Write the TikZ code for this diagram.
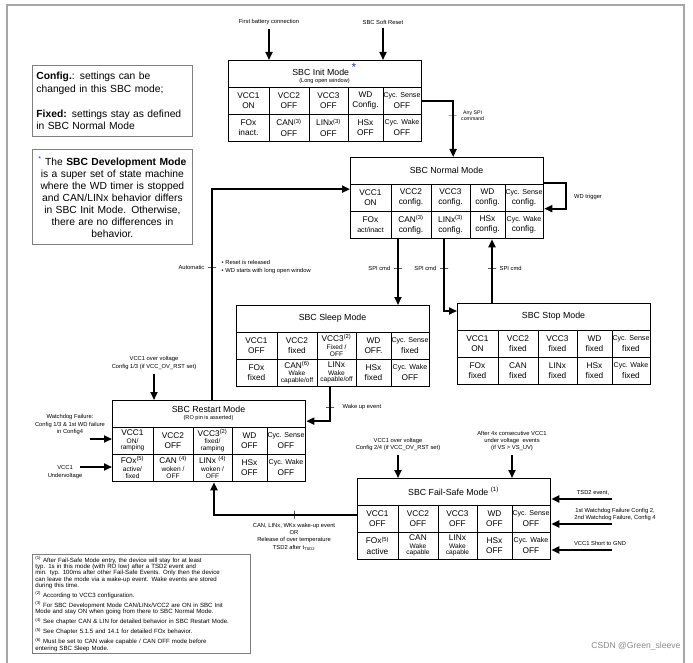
\documentclass[tikz,border=0pt]{standalone}
\usepackage{fontspec}
\setmainfont{Liberation Sans}
\usetikzlibrary{arrows.meta}
\usetikzlibrary{positioning}
\definecolor{sbcgray}{HTML}{7F7F7F}
\definecolor{sbcframe}{HTML}{A6A6A6}
\definecolor{sbcstar}{HTML}{1F3FD0}
\definecolor{sbcmark}{HTML}{8C8C8C}
\newcommand{\sbccyc}[1]{{\fontsize{7.1}{9}\selectfont #1}}
\newcommand{\sbcsmall}[1]{{\fontsize{6.6}{6.8}\selectfont #1}}
% ten cells of one mode table, row by row
\newcommand{\sbccells}[4]{%
  \foreach \txt [count=\i from 0] in {#4} {
    \pgfmathtruncatemacro\col{mod(\i,5)}
    \pgfmathtruncatemacro\row{div(\i,5)}
    \pgfmathsetmacro\cx{{20.5,61,100.5,137.5,174}[\col]}
    \node[sbccell] (#1-\i) at (#2+\cx, #3+40.5+27*\row) {\txt};
  }}
\tikzset{
  sbcbox/.style={
    draw, line width=1.3pt, minimum width=193pt, minimum height=81pt,
    inner sep=0pt, anchor=north west},
  sbcgrid/.style={line width=0.6pt},
  sbccell/.style={align=center, inner sep=0pt,
    font=\fontsize{8.3}{10.2}\selectfont},
  sbctitle/.style={align=center, inner sep=0pt,
    font=\fontsize{8.8}{9.6}\selectfont},
  sbclabel/.style={align=center, inner sep=0pt,
    font=\fontsize{5.8}{7.2}\selectfont},
  sbcarrow/.style={-{Triangle[length=8pt, width=7pt]}, line width=1.8pt},
  sbctickh/.style={draw, line width=1pt, minimum width=8pt,
    minimum height=0pt, inner sep=0pt},
  sbctickv/.style={draw, line width=1pt, minimum width=0pt,
    minimum height=8pt, inner sep=0pt},
  sbcnote/.style={draw=sbcgray, line width=0.8pt, anchor=north west},
}
\begin{document}
\begin{tikzpicture}[x=1pt, y=-1pt]

\fill[white] (0,0) rectangle (693,663);
\useasboundingbox (0,0) rectangle (693,663);
\draw[sbcframe, line width=1.5pt] (7,663) |- (684,5) -- (684,663);

% Mode tables: grid first, outline on top.
\foreach \bx/\by in {228/60, 350/157, 236/305, 457/303, 112/400, 357/478} {
  \draw[sbcgrid] (\bx,\by+27) -- ++(193,0);
  \draw[sbcgrid] (\bx,\by+54) -- ++(193,0);
  \foreach \dx in {41,81,120,155}
    \draw[sbcgrid] (\bx+\dx,\by+27) -- ++(0,54);
}
\node[sbcbox] (init) at (228,60) {};
\node[sbcbox] (normal) at (350,157) {};
\node[sbcbox] (sleep) at (236,305) {};
\node[sbcbox] (stop) at (457,303) {};
\node[sbcbox] (restart) at (112,400) {};
\node[sbcbox] (failsafe) at (357,478) {};

% Titles.
\node[sbctitle] (init-title) at (324.5,73.5)
  {SBC Init Mode \textcolor{sbcstar}{\textsuperscript{\large *}}\\[-2.5pt]
   {\fontsize{5.6}{6}\selectfont (Long open window)}};
\node[sbctitle] (normal-title) at (446.5,170.5) {SBC Normal Mode};
\node[sbctitle] (sleep-title) at (332.5,318.5) {SBC Sleep Mode};
\node[sbctitle] (stop-title) at (553.5,316.5) {SBC Stop Mode};
\node[sbctitle] (restart-title) at (208.5,413.5)
  {SBC Restart Mode\\[-2.5pt]{\fontsize{5.6}{6}\selectfont (RO pin is asserted)}};
\node[sbctitle] (failsafe-title) at (453.5,491.5)
  {SBC Fail-Safe Mode \textsuperscript{(1)}};

% Cells.
\sbccells{init}{228}{60}{{VCC1\\ON}, {VCC2\\OFF}, {VCC3\\OFF}, {WD\\Config.},
  {\sbccyc{Cyc. Sense}\\OFF}, {FOx\\inact.}, {CAN\textsuperscript{(3)}\\OFF},
  {LINx\textsuperscript{(3)}\\OFF}, {HSx\\OFF}, {\sbccyc{Cyc. Wake}\\OFF}}
\sbccells{normal}{350}{157}{{VCC1\\ON}, {VCC2\\config.}, {VCC3\\config.},
  {WD\\config.}, {\sbccyc{Cyc. Sense}\\config.}, {FOx\\\sbccyc{act/inact}},
  {CAN\textsuperscript{(3)}\\config.}, {LINx\textsuperscript{(3)}\\config.},
  {HSx\\config.}, {\sbccyc{Cyc. Wake}\\config.}}
\sbccells{sleep}{236}{305}{{VCC1\\OFF}, {VCC2\\fixed},
  {VCC3\textsuperscript{(2)}\\[-2.5pt]\sbcsmall{Fixed /}\\[-3.5pt]\sbcsmall{OFF}},
  {WD\\OFF.}, {\sbccyc{Cyc. Sense}\\fixed}, {FOx\\fixed},
  {CAN\textsuperscript{(6)}\\[-2.5pt]\sbcsmall{Wake}\\[-3.5pt]\sbcsmall{capable/off}},
  {LINx\\[-2.5pt]\sbcsmall{Wake}\\[-3.5pt]\sbcsmall{capable/off}},
  {HSx\\fixed}, {\sbccyc{Cyc. Wake}\\OFF}}
\sbccells{stop}{457}{303}{{VCC1\\ON}, {VCC2\\fixed}, {VCC3\\fixed},
  {WD\\fixed}, {\sbccyc{Cyc. Sense}\\fixed}, {FOx\\fixed}, {CAN\\fixed},
  {LINx\\fixed}, {HSx\\fixed}, {\sbccyc{Cyc. Wake}\\fixed}}
\sbccells{restart}{112}{400}{
  {VCC1\\[-2.5pt]\sbcsmall{ON/}\\[-3.5pt]\sbcsmall{ramping}}, {VCC2\\OFF},
  {VCC3\textsuperscript{(2)}\\[-2.5pt]\sbcsmall{fixed/}\\[-3.5pt]\sbcsmall{ramping}},
  {WD\\OFF}, {\sbccyc{Cyc. Sense}\\OFF},
  {FOx\textsuperscript{(5)}\\[-2.5pt]\sbcsmall{active/}\\[-3.5pt]\sbcsmall{fixed}},
  {CAN \textsuperscript{(4)}\\[-2.5pt]\sbcsmall{woken /}\\[-3.5pt]\sbcsmall{OFF}},
  {LINx \textsuperscript{(4)}\\[-2.5pt]\sbcsmall{woken /}\\[-3.5pt]\sbcsmall{OFF}},
  {HSx\\OFF}, {\sbccyc{Cyc. Wake}\\OFF}}
\sbccells{failsafe}{357}{478}{{VCC1\\OFF}, {VCC2\\OFF}, {VCC3\\OFF}, {WD\\OFF},
  {\sbccyc{Cyc. Sense}\\OFF}, {FOx\textsuperscript{(5)}\\active},
  {CAN\\[-2.5pt]\sbcsmall{Wake}\\[-3.5pt]\sbcsmall{capable}},
  {LINx\\[-2.5pt]\sbcsmall{Wake}\\[-3.5pt]\sbcsmall{capable}},
  {HSx\\OFF}, {\sbccyc{Cyc. Wake}\\OFF}}

% Entry into Init.
\node[sbclabel] (battery) at (269,22) {First battery connection};
\node[sbclabel] (softreset) at (383,22) {SBC Soft Reset};
\draw[sbcarrow, shorten <=4pt] (battery) -- (battery |- init.north);
\draw[sbcarrow, shorten <=4pt] (softreset) -- (softreset |- init.north);

% Init to Normal.
\draw[sbcarrow] (init.east) -| ([xshift=6pt]normal.north);
\node[sbctickh] (anytick) at (452.5,116) {};
\node[sbclabel, font=\fontsize{5.2}{6.4}\selectfont, right=4pt of anytick]
  (anyspi) {Any SPI\\command};

% Restart back to Normal.
\coordinate (autofoot) at ([xshift=100pt]restart.north west);
\draw[sbcarrow] (autofoot) |- ([yshift=9pt]normal.west);
\node[sbctickh] (autotick) at (212,267) {};
\node[sbclabel, left=3pt of autotick] (automatic) {Automatic};
\node[sbclabel, align=left, right=5pt of autotick] (autonote)
  {\textbullet\ Reset is released\\\textbullet\ WD starts with long open window};

% Watchdog trigger loop.
\draw[sbcarrow] ([yshift=15pt]normal.east) -- ++(22,0)
  |- ([yshift=-10.5pt]normal.east);
\node[sbclabel, anchor=west] (wdtrigger) at (574,197) {WD trigger};

% Normal, Sleep and Stop.
\coordinate (tosleep) at ([xshift=48pt]normal.south west);
\coordinate (tostop) at ([xshift=94pt]normal.south west);
\coordinate (fromstop) at ([xshift=35pt]stop.north west);
\draw[sbcarrow] (tosleep) -- (tosleep |- sleep.north);
\draw[sbcarrow] (tostop) |- ([yshift=-8pt]stop.north west);
\draw[sbcarrow] (fromstop) -- (fromstop |- normal.south);
\node[sbctickh] (sleeptick) at (398,268) {};
\node[sbctickh] (stoptick) at (444,268) {};
\node[sbctickh] (backtick) at (492,268) {};
\node[sbclabel, left=3pt of sleeptick] (spisleep) {SPI cmd};
\node[sbclabel, left=3pt of stoptick] (spistop) {SPI cmd};
\node[sbclabel, right=3pt of backtick] (spiback) {SPI cmd};

% Sleep to Restart.
\coordinate (wakefoot) at ([xshift=94pt]sleep.south west);
\draw[sbcarrow] (wakefoot) |- ([yshift=20pt]restart.east);
\node[sbctickh] (waketick) at (330,407) {};
\node[sbclabel, right=8pt of waketick] (wakeevent) {Wake up event};

% Fail-Safe to Restart.
\coordinate (fsfoot) at ([xshift=102pt]restart.south west);
\draw[sbcarrow] ([yshift=4pt]failsafe.west) -| (fsfoot);
\node[sbctickv] (fstick) at (294,514.5) {};
\node[sbclabel, below=4pt of fstick] (fswake)
  {CAN, LINx, WKx wake-up event\\OR\\Release of over temperature\\
   TSD2 after t\textsubscript{TSD2}};

% Into Restart.
\node[sbclabel] (rstovervolt) at (154,363)
  {VCC1 over voltage\\Config 1/3 (if VCC\_OV\_RST set)};
\draw[sbcarrow, shorten <=4pt] (rstovervolt) -- (rstovervolt |- restart.north);
\node[sbclabel] (wdfailure) at (70,424.5)
  {Watchdog Failure:\\Config 1/3 \& 1st WD failure\\in Config4};
\coordinate (wdfailin) at (90,439);
\draw[sbcarrow] (wdfailin) -- (wdfailin -| restart.west);
\node[sbclabel] (undervolt) at (65,472) {VCC1\\Undervoltage};
\coordinate (undervoltin) at (80,467);
\draw[sbcarrow] (undervoltin) -- (undervoltin -| restart.west);

% Into Fail-Safe.
\node[sbclabel] (fsovervolt) at (398,444.5)
  {VCC1 over voltage\\Config 2/4 (if VCC\_OV\_RST set)};
\draw[sbcarrow, shorten <=4pt] (fsovervolt) -- (fsovervolt |- failsafe.north);
\node[sbclabel] (fsundervolt) at (512,441)
  {After 4x consecutive VCC1\\under voltage\ \ events\\(if VS > VS\_UV)};
\draw[sbcarrow, shorten <=4pt] (fsundervolt) -- (fsundervolt |- failsafe.north);
\node[sbclabel] (tsd) at (593,493) {TSD2 event,};
\coordinate (tsdin) at (612,499);
\draw[sbcarrow] (tsdin) -- (tsdin -| failsafe.east);
\node[sbclabel] (wdfs) at (615,514.5)
  {1st Watchdog Failure Config 2,\\2nd Watchdog Failure, Config 4};
\coordinate (wdfsin) at (612,524);
\draw[sbcarrow] (wdfsin) -- (wdfsin -| failsafe.east);
\node[sbclabel] (shortgnd) at (600,543) {VCC1 Short to GND};
\coordinate (shortin) at (612,550);
\draw[sbcarrow] (shortin) -- (shortin -| failsafe.east);

% Notes.
\node[sbcnote, text width=152pt, minimum height=71pt, inner xsep=4pt,
      align=left, font=\fontsize{10.3}{12.5}\selectfont] (legend) at (32,65)
  {\textbf{Config.}: settings can be\\changed in this SBC mode;\\[12.5pt]
   \textbf{Fixed:} settings stay as defined\\in SBC Normal Mode};
\node[sbcnote, text width=156pt, minimum height=95pt, inner xsep=2pt,
      align=center, font=\fontsize{10.3}{12}\selectfont] (devmode) at (32,149)
  {\textcolor{sbcstar}{\textsuperscript{*}} The \textbf{SBC Development Mode}\\
   is a super set of state machine\\where the WD timer is stopped\\
   and CAN/LINx behavior differs\\in SBC Init Mode. Otherwise,\\
   there are no differences in\\behavior.};
\node[sbcnote, text width=212pt, inner xsep=3pt, inner ysep=2.5pt, align=left,
      font=\fontsize{6.1}{6.2}\selectfont] (footnotes) at (32,554)
  {\textsuperscript{(1)} After Fail-Safe Mode entry, the device will stay for at least\\
   typ. 1s in this mode (with RO low) after a TSD2 event and\\
   min. typ. 100ms after other Fail-Safe Events. Only then the device\\
   can leave the mode via a wake-up event. Wake events are stored\\
   during this time.\\[2.2pt]
   \textsuperscript{(2)} According to VCC3 configuration.\\[2.2pt]
   \textsuperscript{(3)} For SBC Development Mode CAN/LINx/VCC2 are ON in SBC Init\\
   Mode and stay ON when going from there to SBC Normal Mode.\\[2.2pt]
   \textsuperscript{(4)} See chapter CAN \& LIN for detailed behavior in SBC Restart Mode.\\[2.2pt]
   \textsuperscript{(5)} See Chapter 5.1.5 and 14.1 for detailed FOx behavior.\\[2.2pt]
   \textsuperscript{(6)} Must be set to CAN wake capable / CAN OFF mode before\\
   entering SBC Sleep Mode.};

\node[font=\fontsize{8.6}{10}\selectfont, text=sbcmark, anchor=east]
  (watermark) at (684,646) {CSDN @Green\_sleeve};

\end{tikzpicture}
\end{document}
